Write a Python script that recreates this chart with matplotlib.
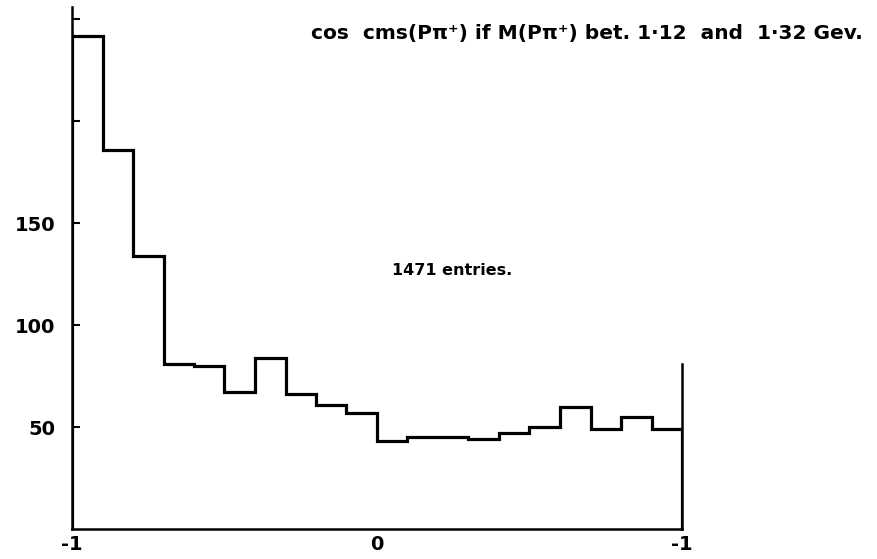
import numpy as np
import matplotlib.pyplot as plt

# cos theta (cms) histogram, 20 bins of 0.1 from -1 to 1
bin_edges = np.linspace(-1.0, 1.0, 21)
counts = [242, 186, 134, 81, 80, 67, 84, 66, 61, 57,
          43, 45, 45, 44, 47, 50, 60, 49, 55, 49]
right_edge_top = 81

ytick_vals = [50, 100, 150, 200, 250]
ytick_text = ["50", "100", "150", "", ""]
xtick_vals = [-1, 0, 1]
xtick_text = ["-1", "0", "-1"]

title_text = "cos  cms(Pπ⁺) if M(Pπ⁺) bet. 1·12  and  1·32 Gev."
entries_text = "1471 entries."

plt.rcParams['font.family'] = ['DejaVu Sans']
plt.rcParams['font.weight'] = 'bold'

fig = plt.figure(figsize=(8.78, 5.59), dpi=100)
ax = fig.add_axes([72 / 878, 30 / 559, 610 / 878, 522 / 559])

ax.stairs(counts, bin_edges, color="black", linewidth=2.3)
ax.plot([bin_edges[-1], bin_edges[-1]], [0, right_edge_top],
        color="black", linewidth=1.8, clip_on=False)

ax.set_xlim(-1, 1)
ax.set_ylim(0, 256)

for side in ("top", "right"):
    ax.spines[side].set_visible(False)
for side in ("left", "bottom"):
    ax.spines[side].set_linewidth(1.8)

ax.set_yticks(ytick_vals)
ax.set_yticklabels(ytick_text, fontsize=14, fontweight="bold")
ax.tick_params(axis="y", direction="in", length=6, width=1.5, pad=12)

ax.set_xticks(xtick_vals)
ax.set_xticklabels(xtick_text, fontsize=14, fontweight="bold")
ax.tick_params(axis="x", length=0, pad=4)

ax.text(-0.215, 243, title_text, fontsize=14.5, fontweight="bold",
        va="center", ha="left", clip_on=False)
ax.text(0.05, 127, entries_text, fontsize=11.5, fontweight="bold",
        va="center", ha="left")

fig.savefig("out.png", dpi=100)
